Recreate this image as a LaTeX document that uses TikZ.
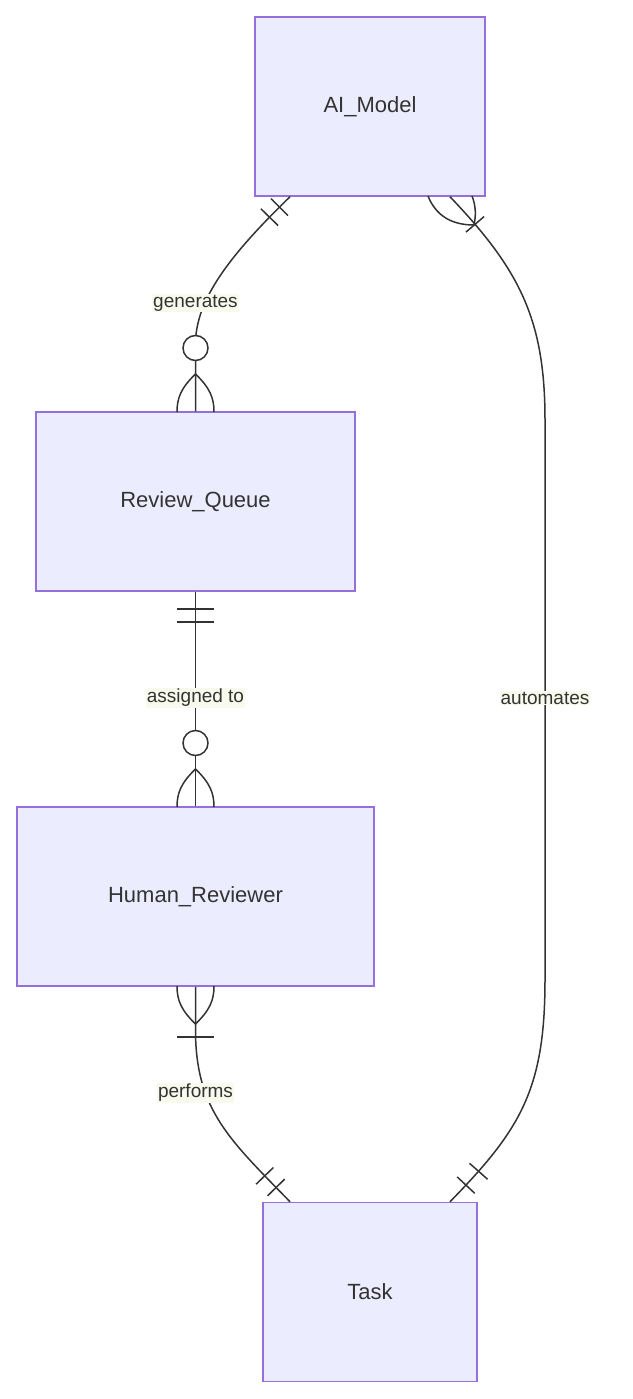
\documentclass[tikz,border=0pt]{standalone}
\usepackage{fontspec}
\setmainfont{Liberation Sans}
\definecolor{ent}{HTML}{ECECFF}
\definecolor{entb}{HTML}{9370DB}
\definecolor{lc}{HTML}{333333}
\definecolor{lbg}{HTML}{F7FAEC}
\tikzset{
 entity/.style={draw=entb, fill=ent, line width=1.5pt, inner sep=0, text=lc, font=\fontsize{22}{26}\selectfont},
 rel/.style={draw=lc, line width=1.5pt},
 lbl/.style={fill=lbg, text=lc, font=\fontsize{19}{22}\selectfont, inner sep=1pt},
 bar/.style={sloped, draw=lc, line width=1.5pt, inner sep=0, minimum width=0pt, minimum height=24pt, fill=none},
 zc/.style={circle, draw=lc, fill=white, line width=1.5pt, minimum size=25pt, inner sep=0}
}
\begin{document}
\begin{tikzpicture}[x=1pt,y=-1pt]
\useasboundingbox (0,0) rectangle (632,1399);
\node[entity, minimum width=230pt, minimum height=179pt] (ai) at (370,106.5) {AI\_Model};
\node[entity, minimum width=319pt, minimum height=179pt] (rq) at (195.5,501.5) {Review\_Queue};
\node[entity, minimum width=357pt, minimum height=179pt] (hr) at (195.5,896.5) {Human\_Reviewer};
\node[entity, minimum width=214pt, minimum height=179pt] (tk) at (370,1292) {Task};
\coordinate (a1) at ([xshift=-80pt]ai.south);
\coordinate (a2) at ([xshift=80pt]ai.south);
\coordinate (t1) at ([xshift=-80pt]tk.north);
\coordinate (t2) at ([xshift=80pt]tk.north);
% generates
\draw[rel] (a1) .. controls (230,255) and (195,300) .. (195.5,345)
  node[pos=0.06,bar]{} node[pos=0.12,bar]{} -- (rq.north);
\draw[rel] (195.5,374) .. controls (181,388) and (177,398) .. (177,412);
\draw[rel] (195.5,374) .. controls (210,388) and (214,398) .. (214,412);
\node[zc] (c1) at (195.5,348) {};
\node[lbl] (l1) at (195.5,303) {generates};
% assigned to
\draw[rel] (rq.south) -- (hr.north);
\draw[rel] (177,609) -- (214,609);
\draw[rel] (177,622) -- (214,622);
\draw[rel] (195.5,769) .. controls (181,783) and (177,793) .. (177,807);
\draw[rel] (195.5,769) .. controls (210,783) and (214,793) .. (214,807);
\node[zc] (c2) at (195.5,743) {};
\node[lbl] (l2) at (195.5,698) {assigned to};
% performs
\draw[rel] (hr.south) -- (195.5,1030) .. controls (195.5,1110) and (230,1140) .. (t1)
  node[pos=0.85,bar]{} node[pos=0.92,bar]{};
\draw[rel] (177,986) .. controls (177,1000) and (181,1010) .. (195.5,1024);
\draw[rel] (214,986) .. controls (214,1000) and (210,1010) .. (195.5,1024);
\draw[rel] (177,1037) -- (214,1037);
\node[lbl] (l3) at (195.5,1093) {performs};
% automates
\draw[rel] (a2) .. controls (520,270) and (545,320) .. (545,420)
  node[pos=0.13,bar]{} -- (545,980) .. controls (545,1090) and (520,1130) .. (t2)
  node[pos=0.85,bar]{} node[pos=0.92,bar]{};
\draw[rel] (428,196) .. controls (436,216) and (452,225) .. (474,225);
\draw[rel] (472,196) .. controls (476,206) and (476,216) .. (474,225);
\node[lbl] (l4) at (545,698) {automates};
\end{tikzpicture}
\end{document}
